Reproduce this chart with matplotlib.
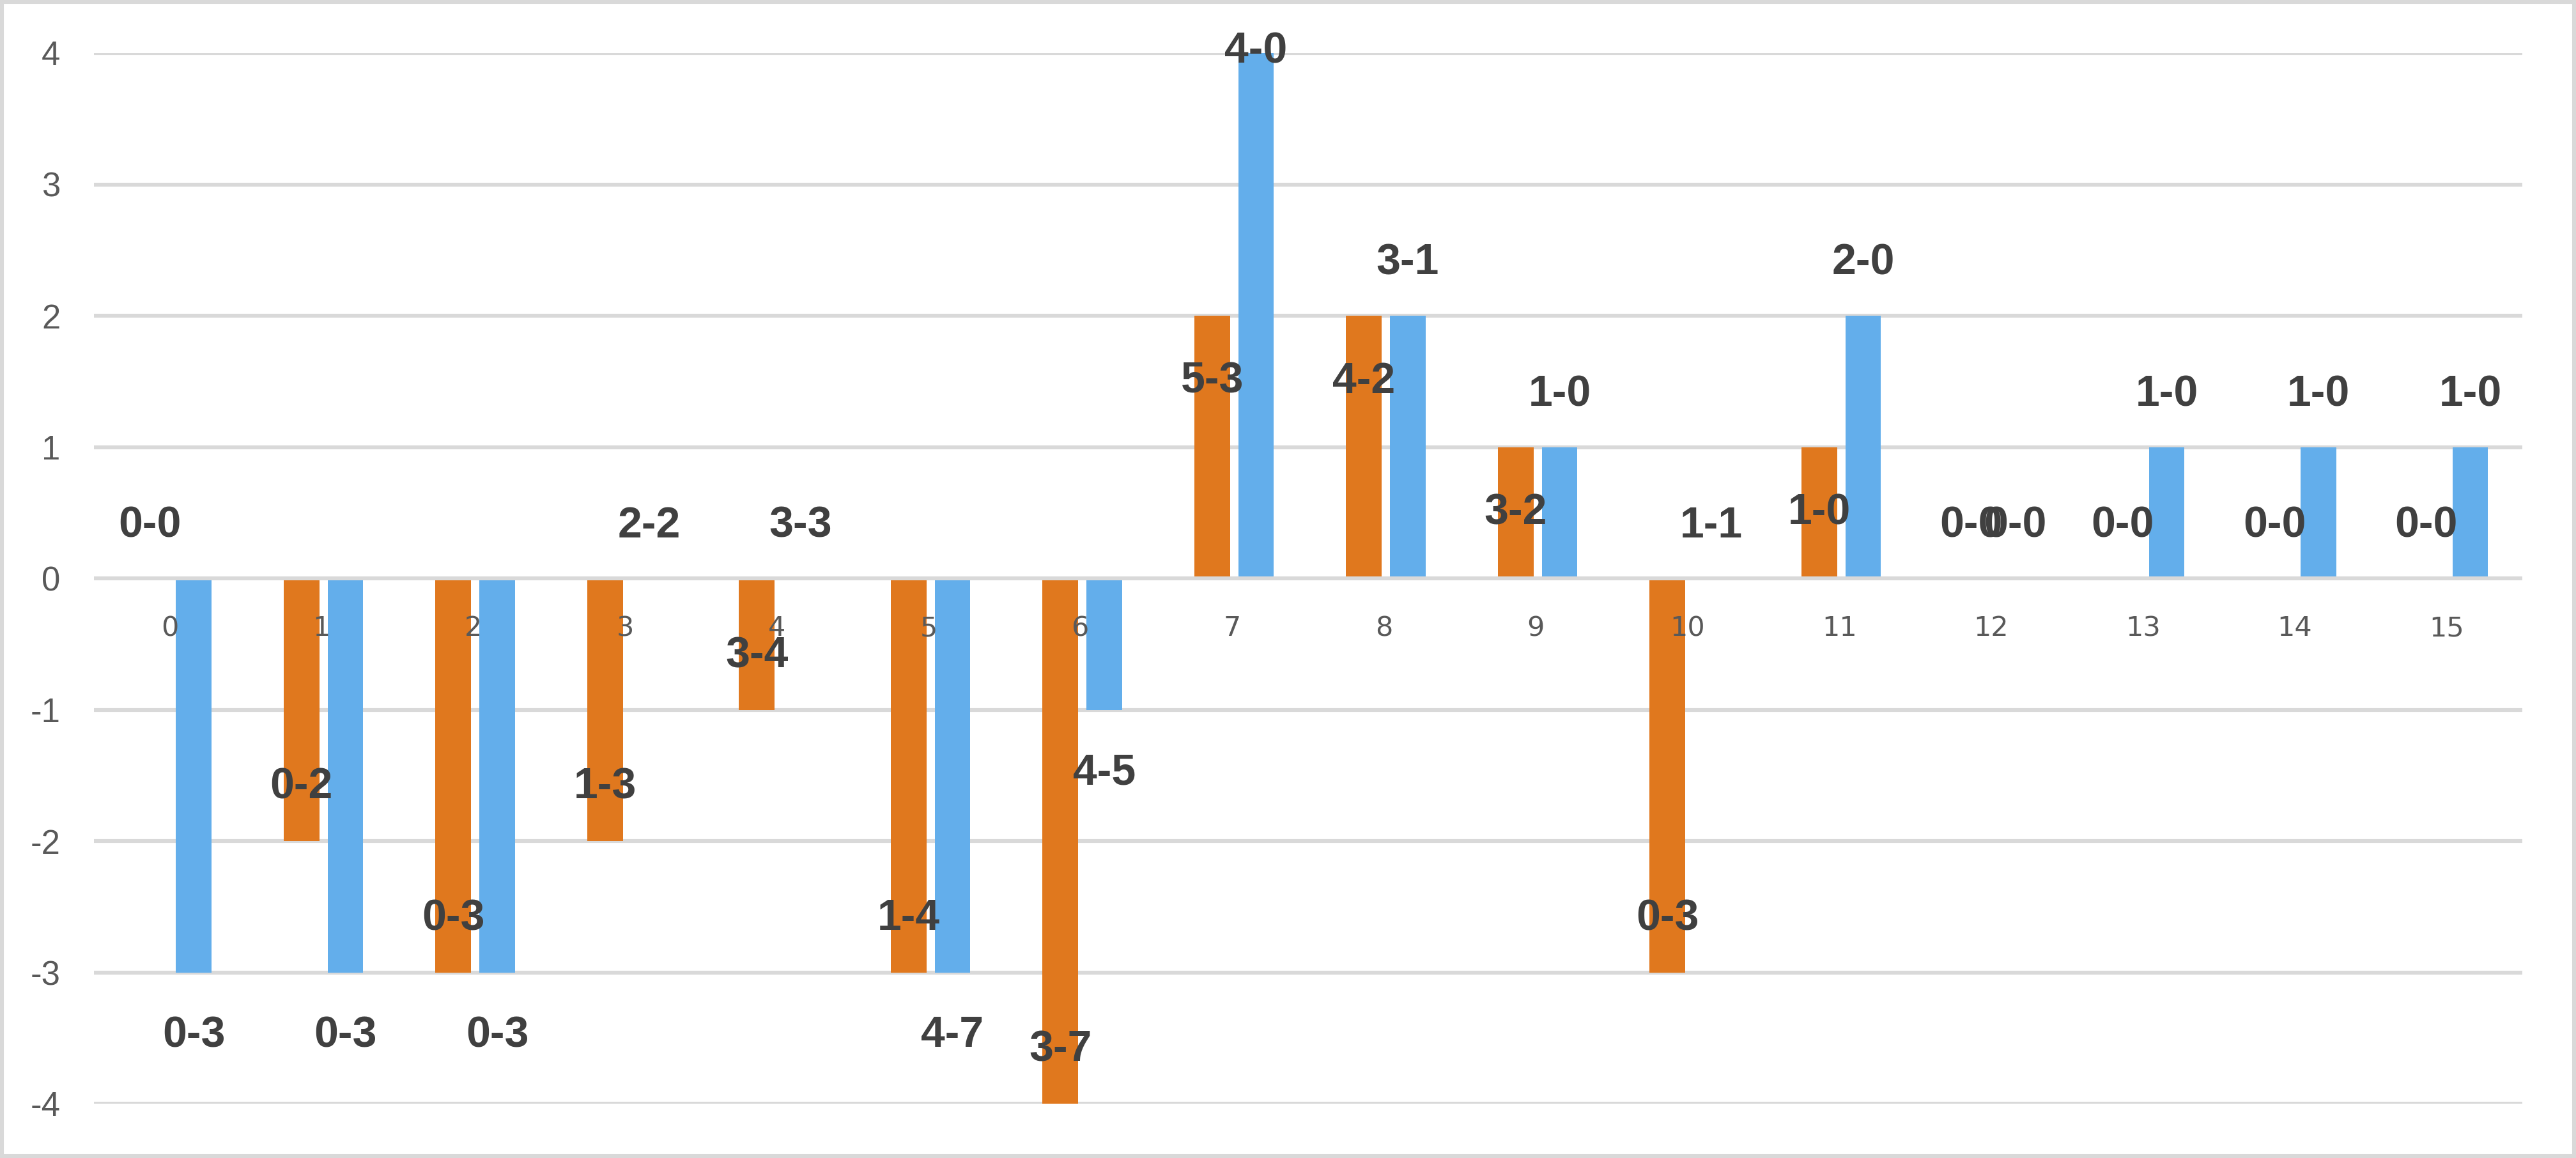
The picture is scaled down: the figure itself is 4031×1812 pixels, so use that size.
import matplotlib
matplotlib.use("Agg")
import matplotlib.pyplot as plt
from matplotlib.patches import Rectangle
import numpy as np

categories = list(range(16))
orange_values = [0, -2, -3, -2, -1, -3, -4, 2, 2, 1, -3, 1, 0, 0, 0, 0]
blue_values = [-3, -3, -3, 0, 0, -3, -1, 4, 2, 1, 0, 2, 0, 1, 1, 1]
orange_labels = ["0-0", "0-2", "0-3", "1-3", "3-4", "1-4", "3-7", "5-3",
                 "4-2", "3-2", "0-3", "1-0", "0-0", "0-0", "0-0", "0-0"]
blue_labels = ["0-3", "0-3", "0-3", "2-2", "3-3", "4-7", "4-5", "4-0",
               "3-1", "1-0", "1-1", "2-0", "0-0", "1-0", "1-0", "1-0"]
y_ticks = [-4, -3, -2, -1, 0, 1, 2, 3, 4]

ORANGE = "#E0781E"
BLUE = "#63AEEB"
GRID = "#D9D9D9"
LABEL = "#404040"
TICK = "#595959"

W, H = 4031, 1812
DPI = 200
fig = plt.figure(figsize=(W / DPI, H / DPI), dpi=DPI)
fig.patch.set_facecolor("white")

left, right = 147 / W, 3947 / W
bottom, top = (H - 1727) / H, (H - 83) / H
ax = fig.add_axes([left, bottom, right - left, top - bottom])

x = np.arange(len(categories))
bw = 0.235
off_o, off_b = -0.132, 0.157

# gridlines (zero line drawn on top of bars, like an axis line)
for t in y_ticks:
    ax.axhline(t, color=GRID, lw=2.2, zorder=3 if t == 0 else 1)

ax.bar(x + off_o, orange_values, width=bw, color=ORANGE, zorder=2, linewidth=0)
ax.bar(x + off_b, blue_values, width=bw, color=BLUE, zorder=2, linewidth=0)

ax.set_xlim(-0.5, len(categories) - 0.5)
ax.set_ylim(-4, 4)
ax.set_xticks([])
ax.set_yticks(y_ticks)
ax.set_yticklabels([str(t) for t in y_ticks], fontsize=19, color=TICK,
                   family=["Liberation Sans", "DejaVu Sans"])
ax.tick_params(axis="y", length=0, pad=19)
for s in ax.spines.values():
    s.set_visible(False)

# category labels just below zero line
for xi, c in zip(x, categories):
    ax.text(xi, -0.38, str(c), ha="center", va="center", fontsize=15.5,
            color=TICK, family="DejaVu Sans", zorder=3)

lab_kw = dict(ha="center", va="center", fontsize=24.5, fontweight="bold",
              color=LABEL, family=["Liberation Sans", "DejaVu Sans"], zorder=4,
              clip_on=False)

for xi, v, lab in zip(x, orange_values, orange_labels):
    if v > 0:
        y = v - 0.5
    elif v < 0:
        y = v + 0.41
    else:
        y = 0.4
    ax.text(xi + off_o, y, lab, **lab_kw)

for xi, v, lab in zip(x, blue_values, blue_labels):
    if v > 0:
        y = min(v + 0.4, 4.01)
    elif v < 0:
        y = v - 0.48
    else:
        y = 0.4
    ax.text(xi + off_b, y, lab, **lab_kw)

# outer chart border
fig.patches.append(Rectangle((3 / W, 3 / H), 1 - 6 / W, 1 - 6 / H,
                             transform=fig.transFigure, fill=False,
                             edgecolor=GRID, linewidth=2.2, zorder=10))

fig.savefig("out.png", dpi=DPI, facecolor="white")
